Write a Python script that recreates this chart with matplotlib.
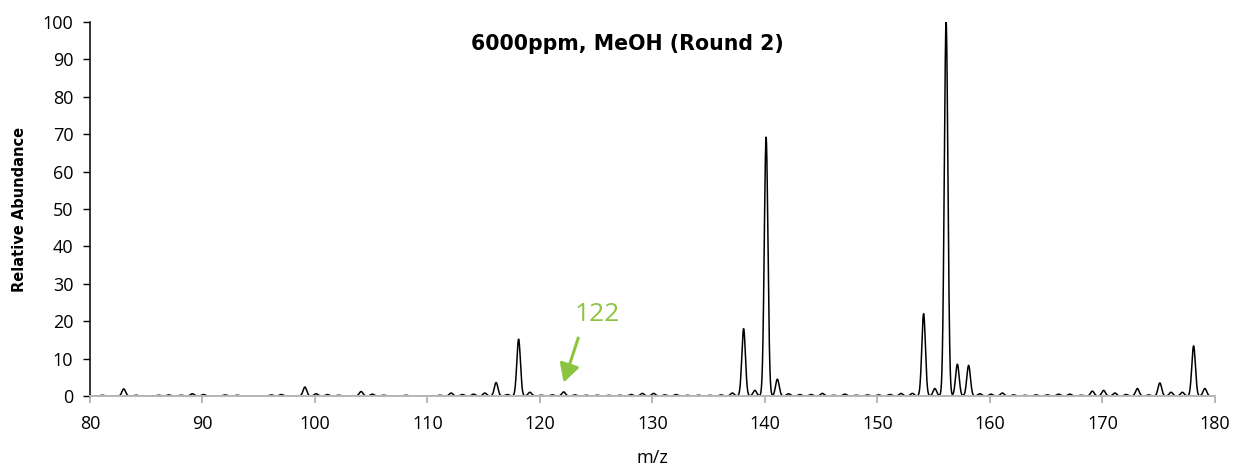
import numpy as np
import matplotlib
matplotlib.use("Agg")
import matplotlib.pyplot as plt

# peak centres (m/z) and relative abundance
peak_mz = [81.1, 83.0, 84.1, 86.1, 87.0, 88.1, 89.1, 90.1, 92.0, 93.1,
           96.1, 97.0, 99.1, 100.1, 101.1, 102.1, 104.1, 105.1, 106.1, 108.1,
           111.1, 112.1, 113.1, 114.1, 115.1, 116.1, 117.1, 118.1, 119.1, 120.1,
           121.1, 122.1, 123.1, 124.1, 125.1, 126.1, 127.1, 128.1, 129.1, 130.1,
           131.1, 132.1, 133.1, 134.1, 135.1, 136.1, 137.1, 138.1, 139.1, 140.1,
           141.1, 142.1, 143.1, 144.1, 145.1, 146.1, 147.1, 148.1, 149.1, 150.1,
           151.1, 152.1, 153.1, 154.1, 155.1, 156.1, 157.1, 158.1, 159.1, 160.1,
           161.1, 162.1, 163.1, 164.1, 165.1, 166.1, 167.1, 168.1, 169.1, 170.1,
           171.1, 172.1, 173.1, 174.1, 175.1, 176.1, 177.1, 178.1, 179.1]
peak_int = [0.2, 1.9, 0.2, 0.2, 0.3, 0.2, 0.6, 0.4, 0.3, 0.2,
            0.3, 0.4, 2.4, 0.6, 0.4, 0.2, 1.2, 0.5, 0.2, 0.2,
            0.2, 0.8, 0.4, 0.5, 0.8, 3.6, 0.4, 15.2, 1.0, 0.2,
            0.3, 1.1, 0.3, 0.2, 0.2, 0.2, 0.2, 0.4, 0.7, 0.7,
            0.3, 0.4, 0.2, 0.2, 0.2, 0.3, 0.8, 18.0, 1.5, 69.2,
            4.5, 0.6, 0.4, 0.4, 0.7, 0.2, 0.5, 0.2, 0.3, 0.3,
            0.4, 0.7, 0.7, 22.0, 2.0, 100.0, 8.5, 8.2, 0.6, 0.5,
            0.8, 0.3, 0.2, 0.3, 0.3, 0.5, 0.5, 0.2, 1.3, 1.5,
            0.8, 0.4, 2.0, 0.3, 3.5, 1.0, 1.0, 13.4, 2.0]

title = "6000ppm, MeOH (Round 2)"
green = "#8dc43f"

# profile spectrum built from the peak list
mz = np.arange(80.0, 180.25, 0.005)
sigma = 0.16
abund = np.zeros_like(mz)
for c, h in zip(peak_mz, peak_int):
    abund += h * np.exp(-0.5 * ((mz - c) / sigma) ** 2)

plt.rcParams['font.family'] = ['Open Sans', 'DejaVu Sans']

fig = plt.figure(figsize=(12.38, 4.66), dpi=100)
ax = fig.add_axes([0.0727, 0.1502, 0.9087, 0.8026])
ax.plot(mz, abund, color="black", lw=1.1)

ax.set_xlim(80, 180)
ax.set_ylim(0, 100)
ax.set_xticks(np.arange(80, 181, 10))
ax.set_yticks(np.arange(0, 101, 10))
ax.tick_params(axis="both", labelsize=13)
ax.tick_params(axis="x", color="#b8b8b8", length=5, width=1.4, pad=9)
ax.tick_params(axis="y", color="black", length=5, width=1.0, pad=7)
ax.spines["top"].set_visible(False)
ax.spines["right"].set_visible(False)
ax.spines["bottom"].set_color("#b8b8b8")
ax.spines["bottom"].set_linewidth(1.4)
ax.spines["left"].set_linewidth(1.1)

ax.set_xlabel("m/z", fontsize=13, labelpad=11)
ax.set_ylabel("Relative Abundance", fontsize=10.5, fontweight="bold",
              family=["DejaVu Sans"], labelpad=11)

ax.text(0.478, 0.94, title, transform=ax.transAxes, ha="center", va="center",
        fontsize=14.8, fontweight="bold", family=["DejaVu Sans"])

# arrow pointing at the m/z 122 peak
ax.annotate("", xy=(122.1, 3.6), xytext=(123.4, 15.5),
            arrowprops=dict(arrowstyle="-|>,head_length=0.55,head_width=0.3",
                            color=green, lw=2.2, mutation_scale=20,
                            shrinkA=0, shrinkB=0))
ax.text(125.1, 21.7, "122", ha="center", va="center", fontsize=19, color=green)

fig.savefig("out.png", dpi=100)
